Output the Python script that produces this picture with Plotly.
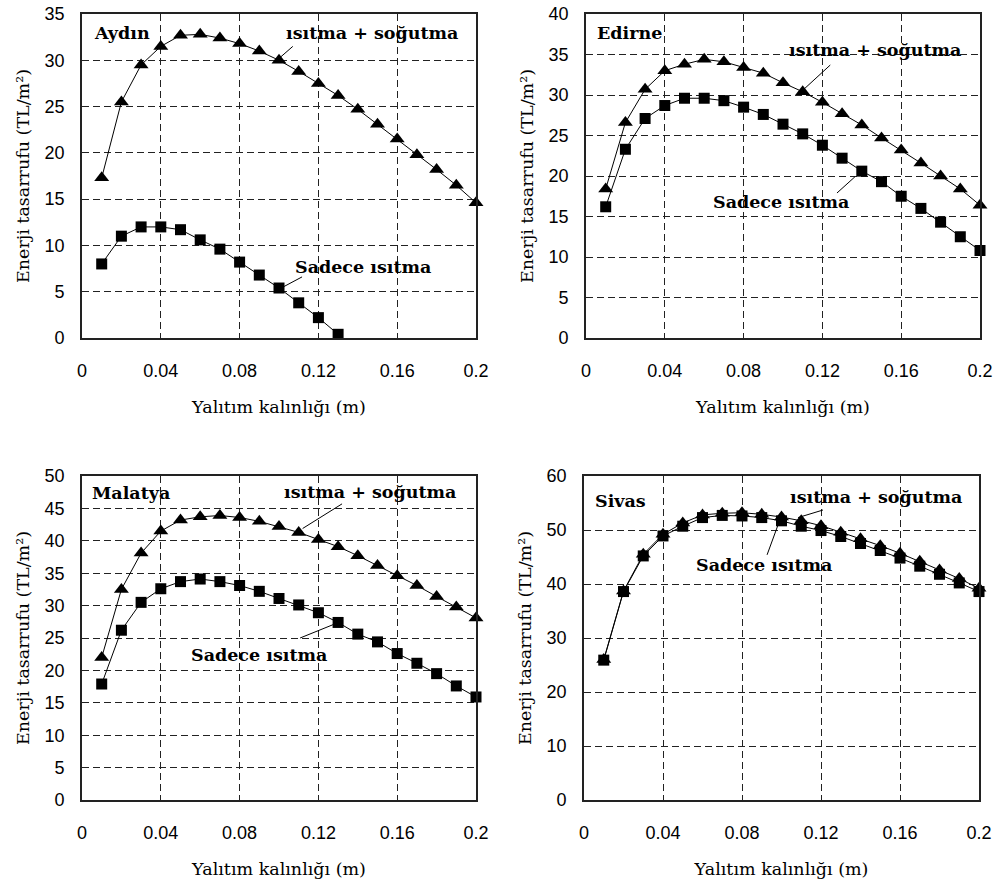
import plotly.graph_objects as go

x_vals = [0.01, 0.02, 0.03, 0.04, 0.05, 0.06, 0.07, 0.08, 0.09, 0.10,
          0.11, 0.12, 0.13, 0.14, 0.15, 0.16, 0.17, 0.18, 0.19, 0.20]

aydin_isitma_sogutma = [17.3, 25.5, 29.5, 31.5, 32.7, 32.8, 32.4, 31.8, 31.0, 30.0,
                        28.8, 27.5, 26.2, 24.7, 23.1, 21.5, 19.8, 18.2, 16.5, 14.6]
aydin_sadece_isitma = [8.0, 11.0, 12.0, 12.0, 11.7, 10.6, 9.6, 8.2, 6.8, 5.4,
                       3.8, 2.2, 0.4]

edirne_isitma_sogutma = [18.4, 26.6, 30.7, 33.0, 33.8, 34.4, 34.1, 33.4, 32.7, 31.5,
                         30.4, 29.1, 27.7, 26.3, 24.7, 23.2, 21.6, 20.0, 18.4, 16.4]
edirne_sadece_isitma = [16.2, 23.3, 27.1, 28.7, 29.6, 29.6, 29.3, 28.5, 27.6, 26.4,
                        25.2, 23.8, 22.2, 20.6, 19.3, 17.5, 16.0, 14.3, 12.5, 10.8]

malatya_isitma_sogutma = [22.0, 32.5, 38.1, 41.5, 43.2, 43.7, 43.9, 43.6, 43.0, 42.2,
                          41.3, 40.2, 39.1, 37.7, 36.2, 34.6, 33.1, 31.4, 29.8, 28.1]
malatya_sadece_isitma = [17.9, 26.2, 30.5, 32.6, 33.7, 34.1, 33.7, 33.1, 32.2, 31.1,
                         30.1, 28.9, 27.4, 25.6, 24.4, 22.6, 21.1, 19.5, 17.6, 15.9]

sivas_isitma_sogutma = [26.0, 38.7, 45.5, 49.2, 51.3, 52.8, 53.1, 53.2, 52.9, 52.4,
                        51.7, 50.8, 49.6, 48.4, 47.1, 45.7, 44.2, 42.6, 41.0, 39.2]
sivas_sadece_isitma = [25.9, 38.6, 45.2, 48.9, 50.7, 52.3, 52.7, 52.6, 52.3, 51.7,
                       50.7, 49.9, 48.8, 47.5, 46.2, 44.8, 43.3, 41.8, 40.2, 38.6]

x_ticks = [0, 0.04, 0.08, 0.12, 0.16, 0.2]
x_tick_labels = ["0", "0.04", "0.08", "0.12", "0.16", "0.2"]

cities = ["Aydın", "Edirne", "Malatya", "Sivas"]
y_max = [35, 40, 50, 60]
y_step = [5, 5, 5, 10]

series = [
    (aydin_isitma_sogutma, aydin_sadece_isitma),
    (edirne_isitma_sogutma, edirne_sadece_isitma),
    (malatya_isitma_sogutma, malatya_sadece_isitma),
    (sivas_isitma_sogutma, sivas_sadece_isitma),
]

W, H = 995, 884
# plot-area pixel boxes (left, right, top, bottom)
boxes = [(82, 476, 14, 338), (586, 980, 14, 338), (82, 476, 476, 800), (584, 979, 476, 800)]

fig = go.Figure()
layout = {}
tick_font = dict(family="Liberation Sans", size=18, color="black")
title_font = dict(family="DejaVu Serif", size=17.5, color="black")
lab_font = dict(family="DejaVu Serif", size=17.5, color="black")
grid = dict(showgrid=True, gridcolor="#222222", griddash="7px,4px", gridwidth=1.4,
            showline=True, linecolor="#222222", linewidth=1.6, mirror=True,
            zeroline=False, automargin=False, ticks="")

for i, (city, (ys_c, ys_h)) in enumerate(zip(cities, series)):
    n = i + 1
    xa = "x" if n == 1 else f"x{n}"
    ya = "y" if n == 1 else f"y{n}"
    l, r, t, b = boxes[i]
    fig.add_trace(go.Scatter(x=x_vals[:len(ys_h)], y=ys_h, xaxis=xa, yaxis=ya, mode="lines+markers",
                             line=dict(color="black", width=1),
                             marker=dict(symbol="square", size=11, color="black"),
                             showlegend=False, cliponaxis=False))
    fig.add_trace(go.Scatter(x=x_vals[:len(ys_c)], y=ys_c, xaxis=xa, yaxis=ya, mode="lines+markers",
                             line=dict(color="black", width=1),
                             marker=dict(symbol="triangle-up", size=13, color="black"),
                             showlegend=False, cliponaxis=False))
    layout[f"xaxis{'' if n == 1 else n}"] = dict(
        domain=[l / W, r / W], anchor=ya, range=[0, 0.2],
        tickvals=x_ticks, ticktext=x_tick_labels, tickfont=tick_font,
        ticklabelstandoff=16,
        title=dict(text="Yalıtım kalınlığı (m)", font=title_font, standoff=20),
        **grid,
    )
    layout[f"yaxis{'' if n == 1 else n}"] = dict(
        domain=[1 - b / H, 1 - t / H], anchor=xa, range=[0, y_max[i]],
        dtick=y_step[i], tick0=0, tickfont=tick_font, ticklabelstandoff=12,
        title=dict(text="Enerji tasarrufu (TL/m²)", font=title_font, standoff=10),
        **grid,
    )

annotations = []
shapes = []
# city labels
city_pos = [(0.005, 32.9), (0.0046, 37.6), (0.004, 47.4), (0.0046, 55.4)]
for i, city in enumerate(cities):
    n = i + 1
    annotations.append(dict(x=city_pos[i][0], y=city_pos[i][1], xref=f"x{n}", yref=f"y{n}",
                            text=f"<b>{city}</b>", showarrow=False, xanchor="left",
                            font=lab_font))
# series labels (text centre) and leader lines (tail -> head)
cs_text = [(0.147, 32.9), (0.1465, 35.6), (0.146, 47.5), (0.1476, 56.1)]
cs_line = [((0.107, 31.5), (0.1, 30.2)), ((0.124, 33.7), (0.111, 30.8)),
           ((0.132, 45.7), (0.112, 41.9)), ((0.121, 53.7), (0.1084, 52.3))]
h_text = [(0.1426, 7.67), (0.0992, 16.8), (0.0896, 22.4), (0.0909, 43.5)]
h_line = [((0.1117, 6.6), (0.102, 5.5)), ((0.1274, 17.9), (0.1365, 19.9)),
          ((0.1107, 25.0), (0.1294, 27.3)), ((0.0927, 45.4), (0.0982, 50.9))]
for i in range(4):
    n = i + 1
    xr, yr = f"x{n}", f"y{n}"
    annotations.append(dict(x=cs_text[i][0], y=cs_text[i][1], xref=xr, yref=yr,
                            text="<b>ısıtma + soğutma</b>", showarrow=False, font=lab_font))
    annotations.append(dict(x=h_text[i][0], y=h_text[i][1], xref=xr, yref=yr,
                            text="<b>Sadece ısıtma</b>", showarrow=False, font=lab_font))
    for (tail, head) in (cs_line[i], h_line[i]):
        shapes.append(dict(type="line", xref=xr, yref=yr, x0=tail[0], y0=tail[1],
                           x1=head[0], y1=head[1], line=dict(color="black", width=1)))

fig.update_layout(**layout)
fig.update_layout(width=W, height=H, margin=dict(l=0, r=0, t=0, b=0, autoexpand=False),
                  paper_bgcolor="white", plot_bgcolor="white",
                  annotations=annotations, shapes=shapes)
fig.write_html("out.html")
